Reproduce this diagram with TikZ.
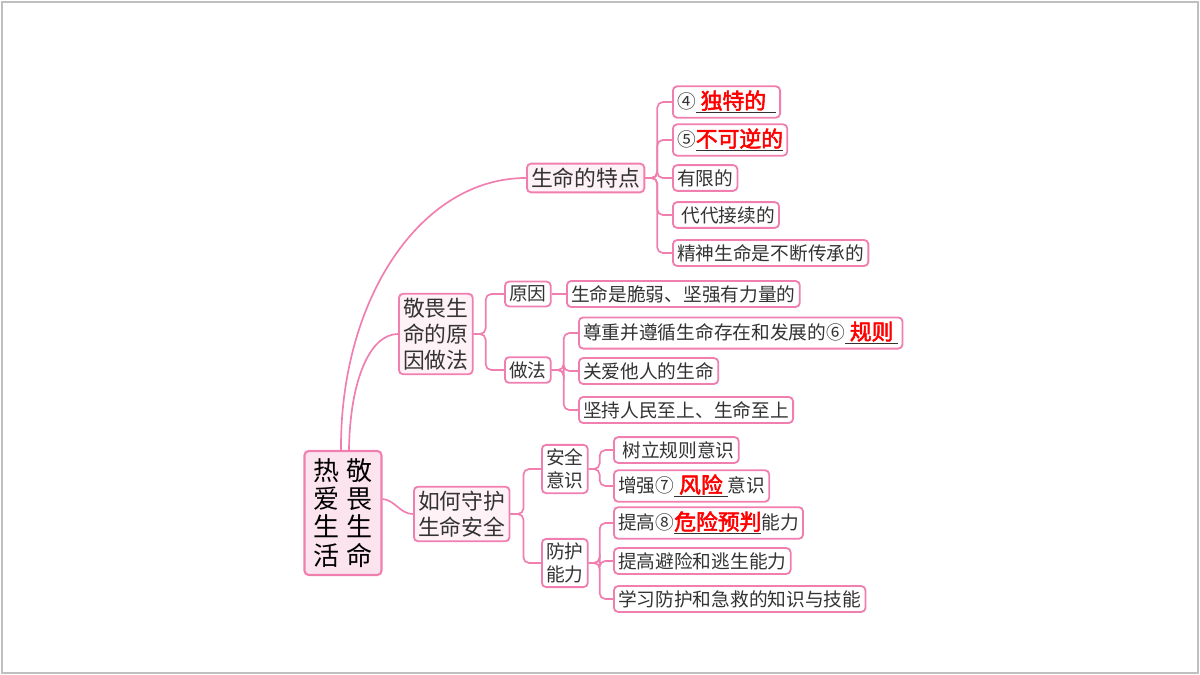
\documentclass[tikz,border=0pt]{standalone}
\usepackage{fontspec}
\newfontfamily\cjk[AutoFakeBold=2.5]{Noto Sans CJK SC}
\usetikzlibrary{positioning}
\definecolor{linkpink}{HTML}{F07FB0}
\definecolor{rootfill}{HTML}{FCE4EE}
\definecolor{leafgray}{HTML}{333333}
\newcommand{\ans}[1]{\underline{\textcolor{red}{\fontsize{15.5}{17}\selectfont\textbf{#1}}}}

\begin{document}
\begin{tikzpicture}
	[
	x=0.025cm, y=-0.025cm,
	every node/.style={font=\cjk\fontsize{13.3}{16}\selectfont, text=leafgray},
	box/.style = {draw=linkpink, line width=1.3pt, rounded corners=3pt, fill=white, inner sep=3pt, anchor=west},
	midbox/.style = {box, fill=rootfill!50, align=center, font=\cjk\fontsize{15.5}{18.5}\selectfont},
	rootbox/.style = {draw=linkpink, line width=1.5pt, rounded corners=3pt, fill=rootfill, align=center, minimum width=77*0.025cm, minimum height=124*0.025cm, font=\cjk\fontsize{18.5}{20}\selectfont, text=black},
	link/.style = {draw=linkpink, line width=1.2pt, rounded corners=4pt}
	]
	\useasboundingbox (0,0) rectangle (1200,675);
	\draw[gray!50, line width=1pt] (2,2) rectangle (1198,673);

	% root and first level
	\node[rootbox] (root) at (343,513) {热\hspace{0.3em}敬\\爱\hspace{0.3em}畏\\生\hspace{0.3em}生\\活\hspace{0.3em}命};
	\node[midbox] (trait) at (526,178) {生命的特点};
	\node[midbox] (why) at (398,334) {敬畏生\\命的原\\因做法};
	\node[midbox] (guard) at (413,514) {如何守护\\生命安全};

	% second level
	\node[box] (reason) at (504,294) {原因};
	\node[box] (way) at (504,370) {做法};
	\node[box, align=center] (safe) at (541,469) {安全\\意识};
	\node[box, align=center] (prot) at (541,563) {防护\\能力};

	% leaves
	\node[box] (t1) at (672,102) {④\ans{\ 独特的\ \ }};
	\node[box] (t2) at (672,140) {⑤\ans{不可逆的}};
	\node[box] (t3) at (672,178) {有限的};
	\node[box] (t4) at (672,215) {\ 代代接续的};
	\node[box] (t5) at (672,253) {精神生命是不断传承的};
	\node[box] (r1) at (566,294) {生命是脆弱、坚强有力量的};
	\node[box] (w1) at (578,333) {尊重并遵循生命存在和发展的⑥\ans{\ 规则\ }};
	\node[box] (w2) at (578,371) {关爱他人的生命};
	\node[box] (w3) at (578,410) {坚持人民至上、生命至上};
	\node[box] (s1) at (613,450) {\ 树立规则意识};
	\node[box] (s2) at (613,486) {增强⑦\ans{\ 风险\ }意识};
	\node[box] (p1) at (613,523) {提高⑧\ans{危险预判}能力};
	\node[box] (p2) at (613,561) {提高避险和逃生能力};
	\node[box] (p3) at (613,599) {学习防护和急救的知识与技能};

	% connectors
	\draw[link] ([xshift=-2*0.025cm]root.north) .. controls (340,300) and (420,178) .. (trait.west);
	\draw[link] ([xshift=6*0.025cm]root.north) .. controls (350,380) and (370,334) .. (why.west);
	\draw[link] ([yshift=14*0.025cm]root.east) .. controls (395,500) and (400,514) .. (guard.west);
	\foreach \c in {t1,t2,t3,t4,t5}
		\draw[link] (trait.east) -- ++(12,0) |- (\c.west);
	\foreach \c in {reason,way}
		\draw[link] (why.east) -- ++(12,0) |- (\c.west);
	\draw[link] (reason.east) -- (r1.west);
	\foreach \c in {w1,w2,w3}
		\draw[link] (way.east) -- ++(12,0) |- (\c.west);
	\foreach \c in {safe,prot}
		\draw[link] (guard.east) -- ++(13,0) |- (\c.west);
	\foreach \c in {s1,s2}
		\draw[link] (safe.east) -- ++(11,0) |- (\c.west);
	\foreach \c in {p1,p2,p3}
		\draw[link] (prot.east) -- ++(11,0) |- (\c.west);
\end{tikzpicture}
\end{document}
